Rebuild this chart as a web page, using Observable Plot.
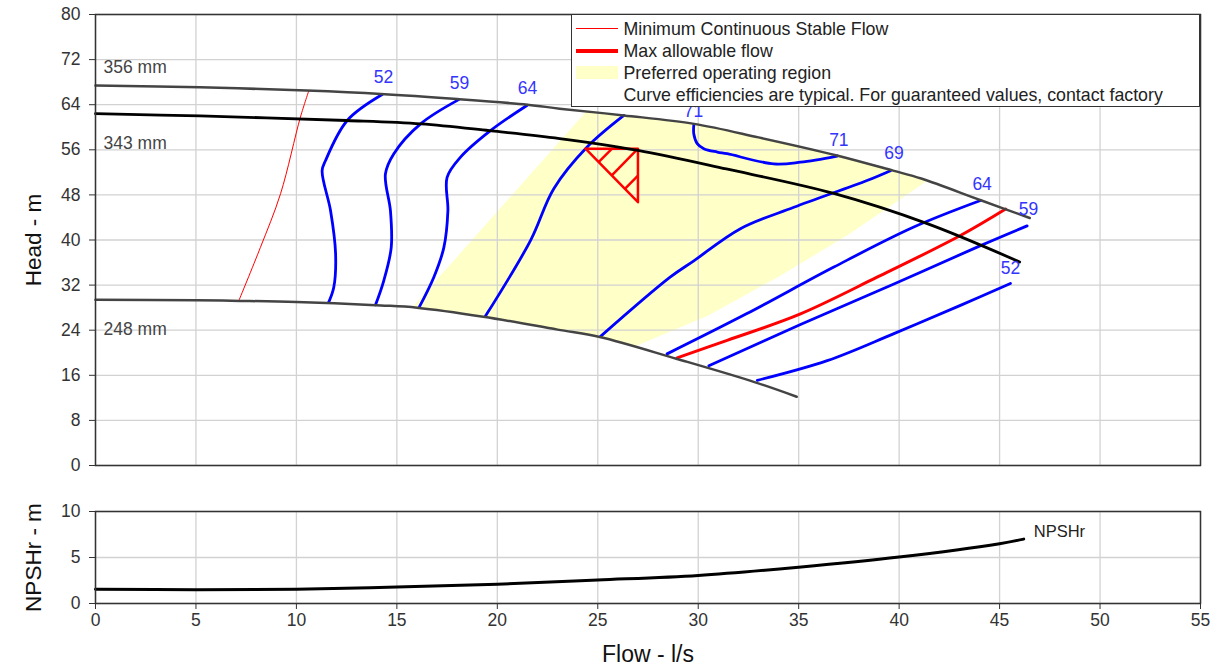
<!DOCTYPE html>
<html>
<head>
<meta charset="utf-8">
<script src="https://cdn.jsdelivr.net/npm/d3@7"></script>
<script src="https://cdn.jsdelivr.net/npm/@observablehq/plot@0.6"></script>
<style>
  body { margin: 0; background: #fff; font-family: "Liberation Sans", Arial, Helvetica, sans-serif; }
  #wrap { position: relative; width: 1228px; height: 665px; overflow: hidden; }
  #wrap svg { display: block; }
  .legend { position: absolute; left: 571px; top: 14px; width: 629px; height: 93px; box-sizing: border-box;
            border: 1.5px solid #333; background: #fff; }
  .row { position: absolute; left: 0; height: 22px; width: 100%; }
  .sw { position: absolute; left: 3.5px; width: 42px; }
  .lt { position: absolute; left: 51.5px; top: 0; line-height: 22px; font-size: 17.8px; color: #222; white-space: nowrap; }
</style>
</head>
<body>
<div id="wrap"></div>
<script>
// ---------- axis ticks ----------
const xTicks = [0, 5, 10, 15, 20, 25, 30, 35, 40, 45, 50, 55];
const headTicks = [0, 8, 16, 24, 32, 40, 48, 56, 64, 72, 80];
const npshTicks = [0, 5, 10];

// ---------- impeller head curves (flow l/s, head m) ----------
const imp356 = [[0,67.4],[5.2,67.1],[10.5,66.5],[14.2,65.9],[18,65.0],[21.5,64.0],[23.1,63.3],[26.3,62.1],[29.8,60.6],[33,58.2],[36.9,55.0],[39.7,52.3],[41.1,50.9],[44.1,47.0],[46.5,43.9]];
const imp343 = [[0,62.4],[5.2,62.0],[12.5,61.2],[16.2,60.6],[19.6,59.4],[23.1,58.0],[27,55.9],[31.4,52.6],[36.7,48.3],[41.4,42.9],[46.0,36.1]];
const imp248 = [[0,29.4],[5,29.3],[7.2,29.2],[10,29.0],[14.2,28.4],[16,28.0],[19.3,26.4],[23,24.1],[25.1,22.8],[28.95,18.9],[32.8,14.8],[34.9,12.2]];
const impLabels = [
  { x: 0.4, y: 70.6, text: "356 mm" },
  { x: 0.4, y: 57.1, text: "343 mm" },
  { x: 0.4, y: 24.1, text: "248 mm" }
];

// ---------- flow limits ----------
const minFlow = [[7.13,29.2],[8.21,38.7],[9.21,48.2],[10.2,61.8],[10.62,66.5]];
const maxFlow = [[28.95,19.1],[31.44,22.2],[35.09,26.9],[38.9,33.4],[43.05,40.8],[45.3,45.5]];

// ---------- efficiency contours (%) ----------
const eff52L = [[14.27,65.8],[12.53,61.2],[11.45,54.1],[11.28,52.3],[11.7,45.2],[11.95,37.6],[11.86,31.6],[11.6,28.9]];
const eff59L = [[18.08,64.9],[16.18,60.6],[14.85,55.3],[14.43,51.7],[14.68,45.2],[14.72,38.7],[14.35,32.8],[13.94,28.5]];
const eff64L = [[21.49,63.9],[19.66,59.4],[18.17,54.7],[17.5,51.1],[17.54,45.2],[17.34,38.7],[16.84,33.4],[16.1,28.0]];
const eff69L = [[19.41,26.5],[21.65,39.9],[22.81,49.1],[24.47,56.5],[26.3,62.1]];
const eff71 = [[29.78,60.4],[29.78,58.8],[29.95,57.1],[30.28,56.2],[30.95,55.6],[31.44,55.3],[33.76,53.5],[35.09,53.8],[36.92,54.9]];
const eff69R = [[25.14,22.9],[28.6,33.4],[29.78,36.3],[32.1,42.0],[34.76,45.8],[38.4,50.55],[39.57,52.3]];
const eff64R = [[28.45,19.8],[32.4,26.9],[36.75,35.2],[40.73,42.3],[44.05,47.0]];
const eff59R = [[30.53,17.7],[35.09,25.0],[39.74,32.2],[44.05,39.0],[46.37,42.5]];
const eff52R = [[32.94,15.1],[36.42,18.6],[39.74,23.4],[43.05,28.4],[45.54,32.3]];
const effLabels = [
  { x: 14.34, y: 68.8, text: "52" },
  { x: 18.12, y: 67.8, text: "59" },
  { x: 21.5, y: 66.9, text: "64" },
  { x: 29.77, y: 62.8, text: "71" },
  { x: 37.0, y: 57.6, text: "71" },
  { x: 39.74, y: 55.3, text: "69" },
  { x: 44.13, y: 49.8, text: "64" },
  { x: 46.44, y: 45.4, text: "59" },
  { x: 45.54, y: 34.9, text: "52" }
];

// ---------- preferred operating region ----------
const preferredRegion = [[15.8,28.2],[24.4,62.7],[26.3,62.1],[29.8,60.6],[33,58.2],[36.9,55.0],[39.7,52.3],[41.4,50.5],[37.5,41.0],[34,33.5],[30.5,26.6],[26.9,21.2],[25.1,22.8],[23,24.1],[19.3,26.4],[16,28.0]];

// ---------- duty point triangle ----------
const triangle = [[24.39,56.2],[27.0,56.2],[27.0,46.7],[24.39,56.2]];
const hatch = [[25.04,53.83,25.71,56.2],[25.7,51.45,27.0,56.2],[26.35,49.08,27.0,51.44]];

// ---------- NPSHr ----------
const npshFlow = [0, 5, 10, 15, 20, 25, 30, 35, 40, 45, 46.2];
const npshr = [1.55, 1.5, 1.55, 1.8, 2.1, 2.55, 3.05, 3.95, 5.05, 6.5, 7.0];

// ---------- build ----------
const FONT = "'Liberation Sans', Arial, Helvetica, sans-serif";
const rows = (pts, id) => pts.map(([x, y]) => ({ x, y, id }));
const effRows = [
  ...rows(eff52L, "52L"), ...rows(eff59L, "59L"), ...rows(eff64L, "64L"), ...rows(eff69L, "69L"),
  ...rows(eff71, "71"), ...rows(eff69R, "69R"), ...rows(eff64R, "64R"), ...rows(eff59R, "59R"), ...rows(eff52R, "52R")
];
const headRows = [...rows(imp356, "356"), ...rows(imp248, "248")];
const npshRows = npshFlow.map((x, i) => ({ x, y: npshr[i] }));
const gridStyle = { stroke: "#d2d2d2", strokeOpacity: 1, strokeWidth: 1.3 };
const X = d => d[0], Y = d => d[1];

const topPlot = Plot.plot({
  width: 1228, height: 490,
  marginTop: 14, marginBottom: 25, marginLeft: 95, marginRight: 28,
  style: { fontFamily: FONT, fontSize: "17.5px", color: "#333", background: "white" },
  x: { domain: [0, 55], axis: null },
  y: { domain: [0, 80], axis: null },
  marks: [
    Plot.line(preferredRegion, { x: X, y: Y, fill: "#ffffc8", stroke: "none" }),
    Plot.gridX(xTicks, gridStyle),
    Plot.gridY(headTicks, gridStyle),
    Plot.axisY(headTicks, { tickSize: 6, tickPadding: 9, label: null, color: "#333" }),
    Plot.line(effRows, { x: "x", y: "y", z: "id", stroke: "#0000ff", strokeWidth: 2.8, curve: "catmull-rom" }),
    Plot.line(minFlow, { x: X, y: Y, stroke: "#ff0000", strokeWidth: 1, curve: "catmull-rom" }),
    Plot.line(maxFlow, { x: X, y: Y, stroke: "#ff0000", strokeWidth: 3, curve: "catmull-rom" }),
    Plot.line(triangle, { x: X, y: Y, stroke: "#ff0000", strokeWidth: 2.5 }),
    Plot.link(hatch, { x1: d => d[0], y1: d => d[1], x2: d => d[2], y2: d => d[3], stroke: "#ff0000", strokeWidth: 2.5 }),
    Plot.line(headRows, { x: "x", y: "y", z: "id", stroke: "#444", strokeWidth: 2.5, curve: "catmull-rom" }),
    Plot.line(imp343, { x: X, y: Y, stroke: "#000", strokeWidth: 2.8, curve: "catmull-rom" }),
    Plot.text(impLabels, { x: "x", y: "y", text: "text", textAnchor: "start", fill: "#444", fontSize: 17.5 }),
    Plot.text(effLabels, { x: "x", y: "y", text: "text", fill: "#3434ff", fontSize: 17.5 }),
    Plot.text(["Head - m"], { text: d => d, frameAnchor: "left", textAnchor: "middle", dx: -62, rotate: -90, fontSize: 22.5, fill: "#111" }),
    Plot.frame({ stroke: "#333", strokeWidth: 1.5 })
  ]
});

const bottomPlot = Plot.plot({
  width: 1228, height: 175,
  marginTop: 21, marginBottom: 62, marginLeft: 95, marginRight: 28,
  style: { fontFamily: FONT, fontSize: "17.5px", color: "#333", background: "white" },
  x: { domain: [0, 55], axis: null },
  y: { domain: [0, 10], axis: null },
  marks: [
    Plot.gridX(xTicks, gridStyle),
    Plot.gridY(npshTicks, gridStyle),
    Plot.axisY(npshTicks, { tickSize: 6, tickPadding: 9, label: null, color: "#333" }),
    Plot.axisX(xTicks, { tickSize: 6, tickPadding: 4, label: null, color: "#333" }),
    Plot.line(npshRows, { x: "x", y: "y", stroke: "#000", strokeWidth: 3, curve: "catmull-rom" }),
    Plot.text([{ x: 46.7, y: 7.8, text: "NPSHr" }], { x: "x", y: "y", text: "text", textAnchor: "start", fill: "#222", fontSize: 16.5 }),
    Plot.text(["NPSHr - m"], { text: d => d, frameAnchor: "left", textAnchor: "middle", dx: -62, rotate: -90, fontSize: 22.5, fill: "#111" }),
    Plot.text(["Flow - l/s"], { text: d => d, frameAnchor: "bottom", textAnchor: "middle", dy: 58, fontSize: 23, fill: "#111" }),
    Plot.frame({ stroke: "#333", strokeWidth: 1.5 })
  ]
});

const wrap = document.getElementById("wrap");
wrap.append(topPlot, bottomPlot);

// ---------- legend (overlaid on the head chart, as in the original) ----------
const legendItems = [
  { label: "Minimum Continuous Stable Flow", kind: "thin" },
  { label: "Max allowable flow", kind: "thick" },
  { label: "Preferred operating region", kind: "area" },
  { label: "Curve efficiencies are typical. For guaranteed values, contact factory", kind: "none" }
];
const legend = document.createElement("div");
legend.className = "legend";
legendItems.forEach((item, i) => {
  const row = document.createElement("div");
  row.className = "row";
  row.style.top = (2.5 + 22 * i) + "px";
  if (item.kind !== "none") {
    const sw = document.createElement("div");
    sw.className = "sw";
    if (item.kind === "thin") { sw.style.top = "10.5px"; sw.style.height = "1px"; sw.style.background = "#ff0000"; }
    if (item.kind === "thick") { sw.style.top = "9px"; sw.style.height = "4px"; sw.style.background = "#ff0000"; }
    if (item.kind === "area") { sw.style.top = "4px"; sw.style.height = "13px"; sw.style.background = "#ffffc8"; }
    row.appendChild(sw);
  }
  const t = document.createElement("div");
  t.className = "lt";
  t.textContent = item.label;
  row.appendChild(t);
  legend.appendChild(row);
});
wrap.appendChild(legend);
</script>
</body>
</html>
